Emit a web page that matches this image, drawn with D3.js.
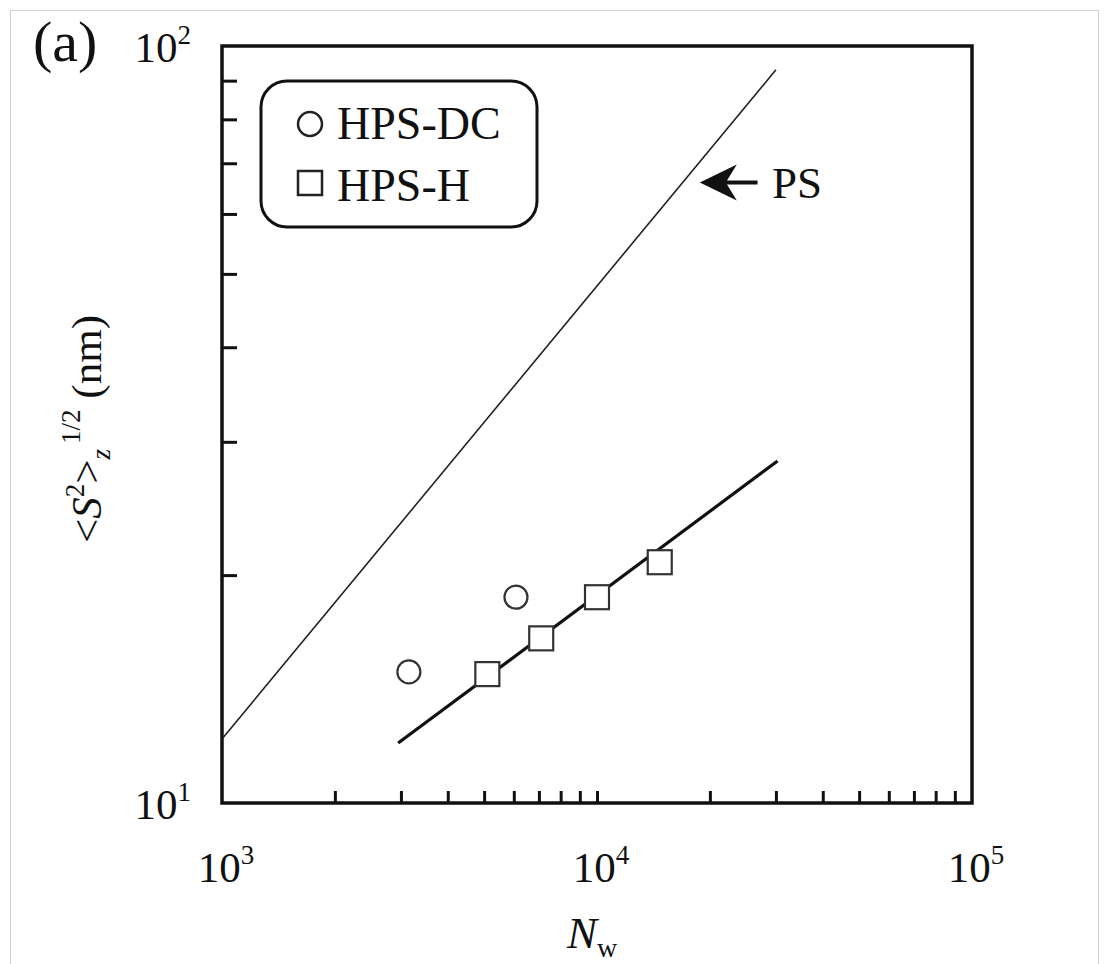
<!DOCTYPE html>
<html>
<head>
<meta charset="utf-8">
<script src="https://cdn.jsdelivr.net/npm/d3@7/dist/d3.min.js"></script>
<style>
  html, body { margin: 0; padding: 0; background: #fff; }
  svg { display: block; }
  text { font-family: "Liberation Serif", "Times New Roman", serif; fill: #111; }
</style>
</head>
<body>
<svg id="chart" width="1109" height="964"></svg>
<script>
// ---- data ----
const seriesNames = ["HPS-DC", "HPS-H"];
const hpsDC_N = [3150, 6080];
const hpsDC_S = [14.9, 18.7];
const hpsH_N = [5100, 7100, 10000, 14700];
const hpsH_S = [14.8, 16.5, 18.7, 20.8];
const psLine_N = [1000, 30000];
const psLine_S = [12.15, 93];
const fitLine_N = [2950, 30300];
const fitLine_S = [12.0, 28.3];
const xTickBases = ["10", "10", "10"];
const xTickExps = ["3", "4", "5"];
const xTickValues = [1e3, 1e4, 1e5];
const yTickBases = ["10", "10"];
const yTickExps = ["1", "2"];
const yTickValues = [10, 100];
const psArrowTip = [18800, 66];
const psArrowTail = [26800, 66];
const psLabelPos = [29300, 63];

// ---- layout ----
const L = 222, R = 972, T = 46, B = 803;
const svg = d3.select("#chart");
const x = d3.scaleLog().domain([1e3, 1e5]).range([L, R]);
const y = d3.scaleLog().domain([10, 100]).range([B, T]);

// outer light border
svg.append("rect").attr("x", 10.5).attr("y", 10.5).attr("width", 1088).attr("height", 970)
  .attr("fill", "none").attr("stroke", "#d0d0d0").attr("stroke-width", 1);

// minor ticks
const xMinor = [];
for (let d = 1e3; d < 1e5; d *= 10) for (let k = 2; k <= 9; k++) xMinor.push(d * k);
xMinor.push(1e4);
const yMinor = [];
for (let k = 2; k <= 9; k++) yMinor.push(10 * k);

const gx = svg.append("g").attr("transform", `translate(0,${B})`)
  .call(d3.axisBottom(x).tickValues(xMinor).tickSize(-12).tickFormat(""));
gx.select(".domain").remove();
gx.selectAll(".tick line").attr("stroke", "#111").attr("stroke-width", 3);

const gy = svg.append("g").attr("transform", `translate(${L},0)`)
  .call(d3.axisLeft(y).tickValues(yMinor).tickSize(-15).tickFormat(""));
gy.select(".domain").remove();
gy.selectAll(".tick line").attr("stroke", "#111").attr("stroke-width", 3);

// frame
svg.append("rect").attr("x", L).attr("y", T).attr("width", R - L).attr("height", B - T)
  .attr("fill", "none").attr("stroke", "#111").attr("stroke-width", 3.5);

// tick labels
const xl = svg.append("g");
xTickValues.forEach((v, i) => {
  const t = xl.append("text").attr("x", x(v) + 4).attr("y", 882)
    .attr("text-anchor", "middle").attr("font-size", 43);
  t.append("tspan").text(xTickBases[i]);
  t.append("tspan").attr("dy", -18).attr("font-size", 27).text(xTickExps[i]);
});
yTickValues.forEach((v, i) => {
  const t = xl.append("text").attr("x", 191).attr("y", y(v) + 16)
    .attr("text-anchor", "end").attr("font-size", 43);
  t.append("tspan").text(yTickBases[i]);
  t.append("tspan").attr("dy", -18).attr("font-size", 27).text(yTickExps[i]);
});

// panel label
svg.append("text").attr("x", 33).attr("y", 61).attr("font-size", 58).text("(a)");

// axis titles
const xt = svg.append("text").attr("x", 567).attr("y", 948).attr("font-size", 45);
xt.append("tspan").attr("font-style", "italic").text("N");
xt.append("tspan").attr("dy", 9).attr("font-size", 28).text("w");

const yt = svg.append("text").attr("transform", "translate(101,429) rotate(-90)")
  .attr("text-anchor", "middle").attr("font-size", 43);
yt.append("tspan").text("<");
yt.append("tspan").attr("font-style", "italic").text("S");
yt.append("tspan").attr("dy", -17).attr("font-size", 27).text("2");
yt.append("tspan").attr("dy", 17).text(">");
yt.append("tspan").attr("dy", 9).attr("font-size", 27).attr("font-style", "italic").text("z");
yt.append("tspan").attr("dx", 5).attr("dy", -30).attr("font-size", 27).text("1/2");
yt.append("tspan").attr("dy", 21).text(" (nm)");

// lines
const line = d3.line().x(d => x(d[0])).y(d => y(d[1]));
svg.append("path").datum(psLine_N.map((n, i) => [n, psLine_S[i]]))
  .attr("d", line).attr("fill", "none").attr("stroke", "#222").attr("stroke-width", 1.6);
svg.append("path").datum(fitLine_N.map((n, i) => [n, fitLine_S[i]]))
  .attr("d", line).attr("fill", "none").attr("stroke", "#111").attr("stroke-width", 3.2);

// markers
svg.append("g").selectAll("circle").data(hpsDC_N.map((n, i) => [n, hpsDC_S[i]]))
  .join("circle").attr("cx", d => x(d[0])).attr("cy", d => y(d[1])).attr("r", 11.5)
  .attr("fill", "#fff").attr("stroke", "#333").attr("stroke-width", 2.2);
const sq = 24;
svg.append("g").selectAll("rect").data(hpsH_N.map((n, i) => [n, hpsH_S[i]]))
  .join("rect").attr("x", d => x(d[0]) - sq / 2).attr("y", d => y(d[1]) - sq / 2)
  .attr("width", sq).attr("height", sq)
  .attr("fill", "#fff").attr("stroke", "#333").attr("stroke-width", 2.2);

// PS annotation
const tip = [x(psArrowTip[0]), y(psArrowTip[1])];
const tail = [x(psArrowTail[0]), y(psArrowTail[1])];
svg.append("line").attr("x1", tip[0] + 20).attr("y1", tip[1]).attr("x2", tail[0]).attr("y2", tail[1])
  .attr("stroke", "#111").attr("stroke-width", 4);
svg.append("path")
  .attr("d", `M${tip[0]},${tip[1]} L${tip[0] + 37},${tip[1] - 18} L${tip[0] + 26},${tip[1]} L${tip[0] + 37},${tip[1] + 18} Z`)
  .attr("fill", "#111");
svg.append("text").attr("x", x(psLabelPos[0])).attr("y", y(psLabelPos[1]))
  .attr("font-size", 45).text("PS");

// legend
const lg = svg.append("g");
lg.append("rect").attr("x", 261).attr("y", 81).attr("width", 276).attr("height", 146)
  .attr("rx", 26).attr("ry", 26).attr("fill", "#fff").attr("stroke", "#111").attr("stroke-width", 3);
lg.append("circle").attr("cx", 310).attr("cy", 124).attr("r", 12)
  .attr("fill", "#fff").attr("stroke", "#222").attr("stroke-width", 2.5);
lg.append("rect").attr("x", 298).attr("y", 171).attr("width", 24).attr("height", 24)
  .attr("fill", "#fff").attr("stroke", "#222").attr("stroke-width", 2.5);
lg.append("text").attr("x", 337).attr("y", 139).attr("font-size", 46).text(seriesNames[0]);
lg.append("text").attr("x", 337).attr("y", 201).attr("font-size", 46).text(seriesNames[1]);
</script>
</body>
</html>
